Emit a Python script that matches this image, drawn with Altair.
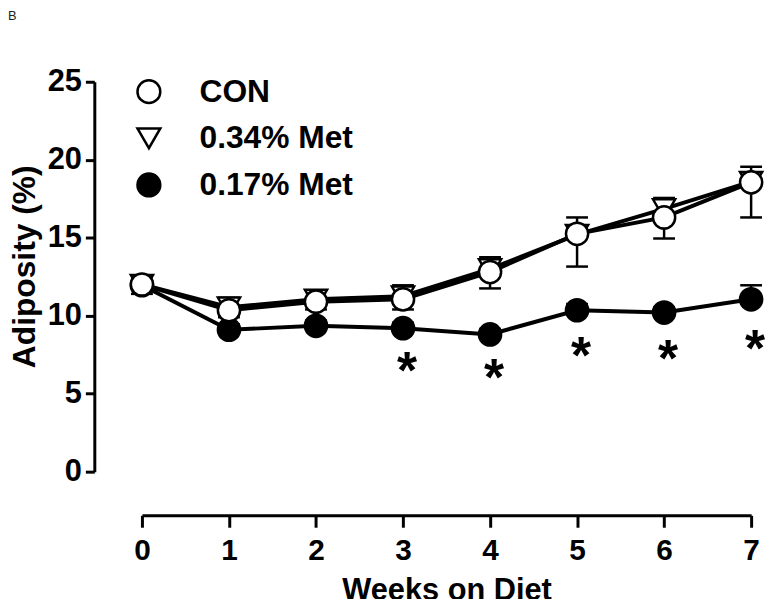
import altair as alt
import pandas as pd

# ---- data ----
weeks = [0, 1, 2, 3, 4, 5, 6, 7]
series_names = ["CON", "0.34% Met", "0.17% Met"]

con_mean = [12.0, 10.35, 10.9, 11.05, 12.8, 15.25, 16.3, 18.55]
con_err_end = [11.4, 9.9, 10.4, 10.4, 11.75, 13.15, 14.95, 16.3]      # drawn below

met34_mean = [12.0, 10.55, 11.05, 11.25, 13.0, 15.2, 16.85, 18.6]
met34_err_end = [12.5, 11.15, 11.6, 11.95, 13.75, 16.3, 17.55, 19.55]  # drawn above

met17_mean = [11.95, 9.1, 9.35, 9.2, 8.8, 10.35, 10.2, 11.05]
met17_err_end = [12.3, 9.45, 9.7, 9.55, 9.15, 10.75, 10.55, 11.95]     # drawn above

star_weeks = [3, 4, 5, 6, 7]
star_y = [7.0, 6.6, 7.95, 7.8, 8.45]

panel_label = ["B"]

y_tick_values = [0, 2.5, 5, 7.5, 10, 12.5, 15, 17.5, 20, 22.5, 25]

FONT = "Liberation Sans"

# ---- tables built from the arrays ----
rows = []
# drawing order: 0.17% Met, then 0.34% Met, then CON on top
for name, means, ends in [("0.17% Met", met17_mean, met17_err_end),
                          ("0.34% Met", met34_mean, met34_err_end),
                          ("CON", con_mean, con_err_end)]:
    for w, m, e in zip(weeks, means, ends):
        rows.append({"week": w, "series": name, "mean": m, "err_end": e})
df = pd.DataFrame(rows)

stars = pd.DataFrame({"week": star_weeks, "mean": star_y, "t": ["*"] * len(star_weeks)})
label_df = pd.DataFrame({"label": panel_label})

x_enc = alt.X(
    "week:Q",
    scale=alt.Scale(domain=[0, 7], nice=False, zero=False),
    axis=alt.Axis(
        values=weeks, format="d", title="Weeks on Diet", offset=44,
        tickSize=12, tickWidth=3, tickColor="black",
        domainWidth=3, domainColor="black",
        labelFont=FONT, labelFontSize=30, labelFontWeight="bold", labelColor="black",
        labelPadding=9, labelFlush=False,
        titleFont=FONT, titleFontSize=31, titleFontWeight="bold", titleColor="black",
        titleBaseline="alphabetic", titleY=85, grid=False,
    ),
)
y_enc = alt.Y(
    "mean:Q",
    scale=alt.Scale(domain=[0, 25], nice=False, zero=True),
    axis=alt.Axis(
        values=y_tick_values,
        labelExpr="datum.value % 5 === 0 ? datum.label : ''",
        title="Adiposity (%)", offset=48,
        tickSize={"condition": {"test": "datum.value % 5 === 0", "value": 9}, "value": 4},
        tickWidth=3, tickColor="black",
        domainWidth=3, domainColor="black",
        labelFont=FONT, labelFontSize=31, labelFontWeight="bold", labelColor="black",
        labelPadding=4,
        titleFont=FONT, titleFontSize=32, titleFontWeight="bold", titleColor="black",
        titlePadding=6, titleY=186, grid=False,
    ),
)

legend = alt.Legend(
    orient="none", legendX=-9, legendY=-6, title=None,
    labelFont=FONT, labelFontSize=32, labelFontWeight="bold", labelColor="black",
    symbolSize=529, symbolStrokeWidth=2.5, symbolStrokeColor="black",
    labelOffset=35, rowPadding=14, padding=0,
)

base = alt.Chart(df)

err_rule = base.mark_rule(color="black", strokeWidth=2.5).encode(
    x=x_enc, y=y_enc, y2="err_end:Q"
)
err_cap = base.mark_tick(orient="horizontal", color="black", size=22, thickness=2.5, opacity=1).encode(
    x=x_enc, y=alt.Y("err_end:Q")
)
lines = base.mark_line(color="black", strokeWidth=4).encode(
    x=x_enc, y=y_enc, detail="series:N"
)
points = base.mark_point(filled=True, strokeWidth=2.5, size=500, opacity=1).encode(
    x=x_enc, y=y_enc,
    shape=alt.Shape("series:N",
                    scale=alt.Scale(domain=series_names, range=["circle", "triangle-down", "circle"]),
                    legend=legend),
    fill=alt.Fill("series:N",
                  scale=alt.Scale(domain=series_names, range=["white", "white", "black"]),
                  legend=legend),
    stroke=alt.Stroke("series:N",
                      scale=alt.Scale(domain=series_names, range=["black", "black", "black"]),
                      legend=legend),
    order=alt.Order("idx:Q"),
).transform_window(idx="row_number()")

star_marks = alt.Chart(stars).mark_text(
    font=FONT, fontSize=52, fontWeight="bold", color="black",
    baseline="middle", align="center", dy=10, dx=4
).encode(x=x_enc, y=y_enc, text="t:N")

b_label = alt.Chart(label_df).mark_text(
    font=FONT, fontSize=13, color="#222222", align="left", baseline="top"
).encode(x=alt.value(-135), y=alt.value(-72), text="label:N")

chart = alt.layer(err_rule, err_cap, lines, points, star_marks, b_label).properties(
    width=614, height=393,
    autosize=alt.AutoSizeParams(type="none"),
    padding={"left": 135, "top": 72, "right": 15, "bottom": 126},
).configure_view(strokeWidth=0)

chart.save("out.html", embed_options={"renderer": "svg", "actions": False})
